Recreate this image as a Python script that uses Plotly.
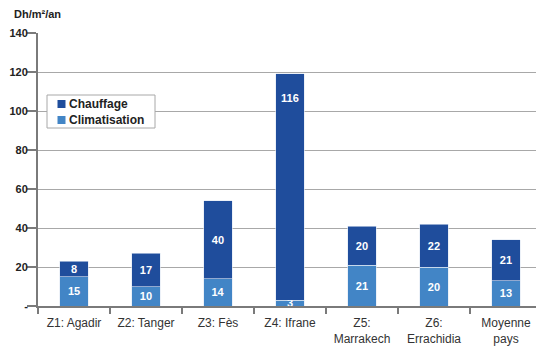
import plotly.graph_objects as go

# Heating / cooling cost per climatic zone (Dh/m²/an)
zones = ["Z1: Agadir", "Z2: Tanger", "Z3: Fès", "Z4: Ifrane",
         "Z5:<br>Marrakech", "Z6:<br>Errachidia", "Moyenne<br>pays"]
climatisation = [15, 10, 14, 3, 21, 20, 13]
chauffage = [8, 17, 40, 116, 20, 22, 21]

y_ticks = [0, 20, 40, 60, 80, 100, 120, 140]
y_tick_text = ["-", "20", "40", "60", "80", "100", "120", "140"]

dark_blue = "#1f4d9c"
light_blue = "#4285c6"
font_family = "Liberation Sans, Arial, sans-serif"
W, H = 536, 348
ML, MR, MT, MB = 38, 0, 33, 42


def px_x(px):
    return (px - ML) / (W - ML - MR)


def px_y(py):
    return (H - MB - py) / (H - MT - MB)


label_font = dict(color="white", size=11, family=font_family, weight="bold")

# the tall Ifrane heating segment carries its label near the top instead
tall = 3
chauffage_text = [str(v) if i != tall else "" for i, v in enumerate(chauffage)]

fig = go.Figure()
fig.add_trace(go.Bar(
    name="Climatisation", x=zones, y=climatisation,
    marker=dict(color=light_blue, line=dict(color="#dfe8f4", width=0.6)),
    text=climatisation, textposition="inside", insidetextanchor="middle",
    textfont=label_font, textangle=0, showlegend=False,
))
fig.add_trace(go.Bar(
    name="Chauffage", x=zones, y=chauffage,
    marker=dict(color=dark_blue, line=dict(color="#dfe8f4", width=0.6)),
    text=chauffage_text, textposition="inside", insidetextanchor="middle",
    textfont=label_font, textangle=0, showlegend=False,
))

annotations = [
    dict(text="Dh/m²/an", xref="paper", yref="paper",
         x=px_x(12), y=px_y(14), xanchor="left", yanchor="middle",
         showarrow=False,
         font=dict(size=11, family=font_family, color="#222222", weight="bold")),
    dict(text=str(chauffage[tall]), x=zones[tall],
         y=climatisation[tall] + chauffage[tall], yshift=-24,
         xanchor="center", yanchor="middle", showarrow=False, font=label_font),
]

# legend box drawn by hand for a compact layout
shapes = [dict(type="rect", xref="paper", yref="paper",
               x0=px_x(47), x1=px_x(155), y0=px_y(128), y1=px_y(95),
               line=dict(color="#a8a8a8", width=1), fillcolor="white")]
legend_items = [("Chauffage", dark_blue, 104), ("Climatisation", light_blue, 120)]
for name, color, cy in legend_items:
    shapes.append(dict(type="rect", xref="paper", yref="paper",
                       x0=px_x(57.5), x1=px_x(65.5), y0=px_y(cy + 4), y1=px_y(cy - 4),
                       line=dict(width=0), fillcolor=color))
    annotations.append(dict(text=name, xref="paper", yref="paper",
                            x=px_x(67), y=px_y(cy), xanchor="left", yanchor="middle",
                            showarrow=False,
                            font=dict(size=12, family=font_family, color="#222222",
                                      weight="bold")))

fig.update_layout(
    width=W, height=H,
    margin=dict(l=ML, r=MR, t=MT, b=MB),
    barmode="stack", bargap=0.6,
    plot_bgcolor="white", paper_bgcolor="white",
    font=dict(family=font_family, size=11, color="#333333"),
    uniformtext=dict(minsize=11, mode="show"),
    showlegend=False,
    xaxis=dict(
        range=[-0.5, 6.417],
        showline=True, linecolor="#7a7a7a", linewidth=2,
        ticks="outside", tickson="boundaries", ticklen=6,
        tickcolor="#7a7a7a", tickwidth=1.5,
        showgrid=False,
        tickfont=dict(size=12, color="#333333"),
        ticklabelstandoff=5,
    ),
    yaxis=dict(
        range=[0, 140],
        tickvals=y_ticks, ticktext=y_tick_text,
        showline=True, linecolor="#7a7a7a", linewidth=2,
        ticks="outside", ticklen=9, tickcolor="#7a7a7a", tickwidth=1.5,
        showgrid=True, gridcolor="#a8a8a8", gridwidth=1.2,
        zeroline=False,
        tickfont=dict(size=11, color="#222222", weight="bold"),
        ticklabelstandoff=-3,
    ),
    shapes=shapes,
    annotations=annotations,
)

fig.write_html("out.html")
